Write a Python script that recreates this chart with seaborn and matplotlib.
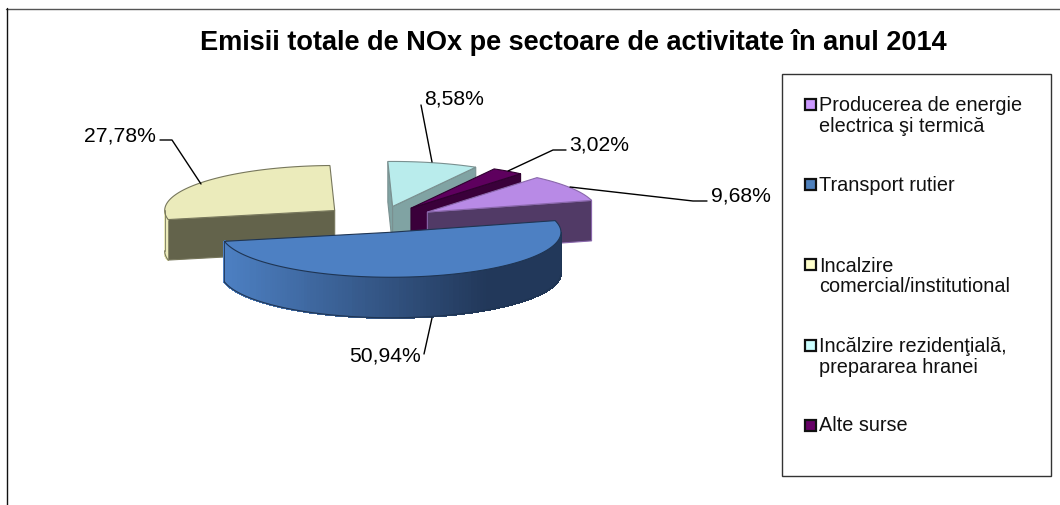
"""Emisii NOx pe sectoare: exploded 3D style pie drawn with seaborn palettes and matplotlib."""

import numpy as np
import pandas as pd
import seaborn as sns
import matplotlib
matplotlib.use("Agg")
import matplotlib.pyplot as plt
from matplotlib.patches import Polygon, Rectangle

title = "Emisii totale de NOx pe sectoare de activitate în anul 2014"
sectors = [
    "Producerea de energie\nelectrica şi termică",
    "Transport rutier",
    "Incalzire\ncomercial/institutional",
    "Incălzire rezidenţială,\nprepararea hranei",
    "Alte surse",
]
shares = [9.68, 50.94, 27.78, 8.58, 3.02]

# Styling, same order as sectors
top_colors = ["#B88AE6", "#4D80C3", "#EBEBBB", "#B9ECEC", "#5E005E"]
side_colors = ["#513A66", "#22385A", "#63634B", "#80A3A3", "#3A003A"]
edge_colors = ["#8A68AC", "#1F3553", "#77775C", "#7A9090", "#300030"]
swatch_colors = ["#CC99FF", "#4F81BD", "#FFFFCC", "#CCFFFF", "#660066"]
explode = [0.33, 0.28, 0.34, 0.31, 0.32]
legend_y = [116, 185, 276.5, 357, 426]
swatch_y = [105, 185, 265, 346, 426]

# Layout, in image pixels
CENTER = (380, 221)
RX, RY = 170, 45
DEPTH = 40.5
START_ANGLE = 15
DRAW_ORDER = [2, 3, 4, 0, 1]

sns.set_theme(style="white")
plt.rcParams["font.family"] = ["Liberation Sans", "DejaVu Sans"]

df = pd.DataFrame({"sector": sectors, "share": shares})
df["sweep"] = df["share"] / df["share"].sum() * 360
df["start"] = START_ANGLE + df["sweep"].iloc[0] - df["sweep"].cumsum().shift(fill_value=0)
df["end"] = df["start"] - df["sweep"]
df["mid"] = (df["start"] + df["end"]) / 2


def rim(cx, cy, angle):
    """Point on the top ellipse for an angle in degrees."""
    a = np.radians(angle)
    return cx + RX * np.cos(a), cy - RY * np.sin(a)


def extrude(ax, p, q, color, edge):
    """Draw the vertical face below the segment p-q."""
    pts = [p, q, (q[0], q[1] + DEPTH), (p[0], p[1] + DEPTH)]
    ax.add_patch(Polygon(pts, closed=True, facecolor=color, edgecolor=edge, lw=0.8))


def draw_slice(ax, row, top, side, edge, exp):
    """Draw one exploded slice: cut faces, rim and top."""
    a = np.radians(row["mid"])
    cx = CENTER[0] + exp * RX * np.cos(a)
    cy = CENTER[1] - exp * RY * np.sin(a)
    apex = (cx, cy)

    # cut faces, only those turned to the viewer
    if np.sin(np.radians(row["start"] + 90)) < 0:
        extrude(ax, apex, rim(cx, cy, row["start"]), side, edge)
    if np.sin(np.radians(row["end"] - 90)) < 0:
        extrude(ax, apex, rim(cx, cy, row["end"]), side, edge)

    # rim, shaded from left to right
    angles = np.linspace(row["start"], row["end"], 160)
    shades = sns.blend_palette([top, side], 101)
    front = [t for t in angles if np.sin(np.radians(t)) <= 0.01]
    for t0, t1 in zip(front[:-1], front[1:]):
        frac = min((np.cos(np.radians(t0)) + 1) / 2 / 0.78, 1)
        c = shades[int(frac * 100)]
        p, q = rim(cx, cy, t0), rim(cx, cy, t1)
        pts = [p, q, (q[0], q[1] + DEPTH), (p[0], p[1] + DEPTH)]
        ax.add_patch(Polygon(pts, closed=True, facecolor=c, edgecolor=c, lw=1.0, antialiased=False))
    if len(front) > 1:
        low = [rim(cx, cy, t) for t in front]
        ax.plot([p[0] for p in low], [p[1] + DEPTH for p in low], color=edge, lw=0.8)
        for t in (front[0], front[-1]):
            x, y = rim(cx, cy, t)
            ax.plot([x, x], [y, y + DEPTH], color=edge, lw=0.6)

    # top
    pts = [apex] + [rim(cx, cy, t) for t in angles]
    ax.add_patch(Polygon(pts, closed=True, facecolor=top, edgecolor=edge, lw=0.8))


fig, ax = plt.subplots(figsize=(10.6, 5.06), dpi=100)
ax.set_position([0, 0, 1, 1])
ax.set_xlim(0, 1060)
ax.set_ylim(506, 0)
ax.axis("off")

# Outer frame, cut off at the right and bottom of the picture
ax.plot([1060, 6], [9.5, 9.5], color="#555555", lw=1.0)
ax.plot([6.5, 6.5], [9, 506], color="#111111", lw=1.0)

ax.text(573.5, 42.5, title, fontsize=19.5, fontweight="bold", color="black", ha="center", va="center")

for i in DRAW_ORDER:
    draw_slice(ax, df.iloc[i], top_colors[i], side_colors[i], edge_colors[i], explode[i])

# Data labels with leader lines
label_pos = [(741, 196), (385, 356), (120, 136), (454, 99), (599, 145)]
leaders = [
    [(570, 188), (693, 202), (707, 202)],
    [(424, 355), (432, 319)],
    [(160, 141), (172, 141), (201, 185)],
    [(421, 106), (432, 163)],
    [(566, 151), (553, 151), (508, 172)],
]
for value, pos, line in zip(shares, label_pos, leaders):
    ax.text(pos[0], pos[1], f"{value:.2f}%".replace(".", ","), fontsize=15.2,
            color="black", ha="center", va="center")
    ax.plot([p[0] for p in line], [p[1] for p in line], color="black", lw=1.0)

# Legend box
ax.add_patch(Rectangle((782, 75), 269, 402, facecolor="white", edgecolor="#333333", lw=1.0))
for name, y, sy, color in zip(sectors, legend_y, swatch_y, swatch_colors):
    ax.add_patch(Rectangle((804.5, sy - 5.5), 11, 11, facecolor=color, edgecolor="#111111", lw=1.6))
    ax.text(819, y, name, fontsize=14.3, color="#111111", ha="left", va="center", linespacing=1.12)

fig.savefig("out.png", dpi=100)
plt.close(fig)
